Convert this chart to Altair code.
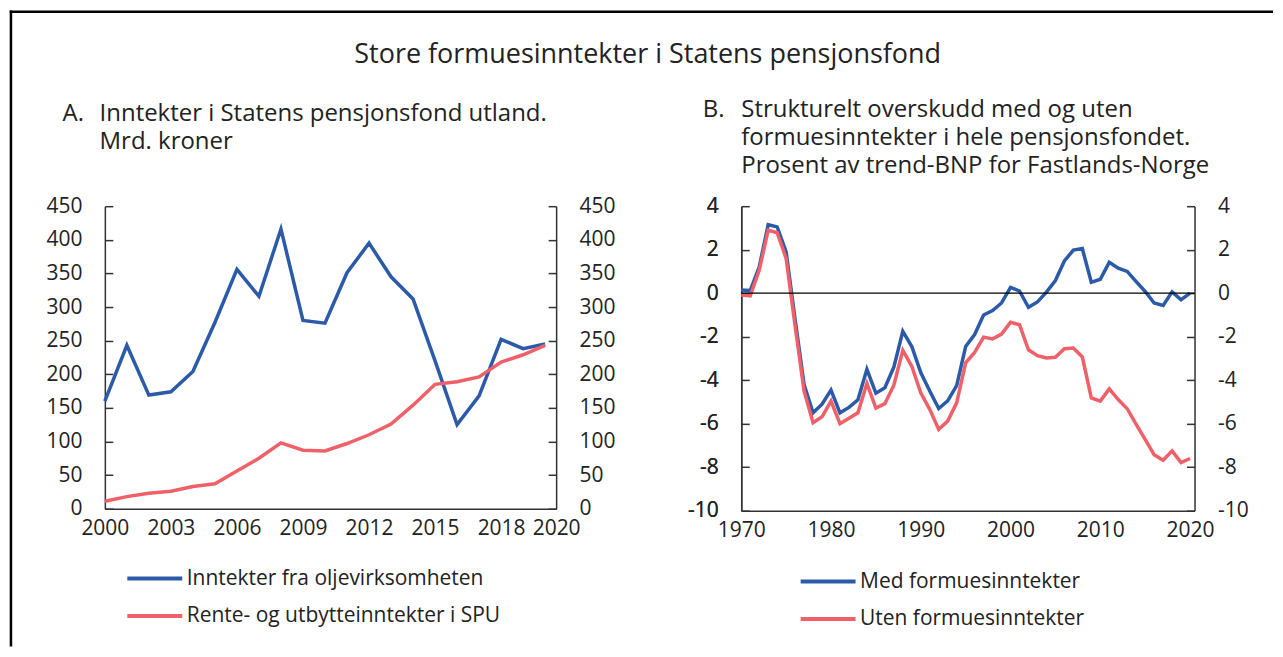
import altair as alt
import pandas as pd

# ---------------- data ----------------
YEARS_A = list(range(2000, 2021))
OIL = [160, 243, 169, 174, 204, 277, 356, 316, 416, 280, 276, 351, 395, 345, 312,
       220, 125, 168, 252, 238, 245]
SPU = [11, 18, 23, 26, 33, 37, 56, 75, 98, 87, 86, 97, 110, 126, 154,
       185, 189, 196, 218, 229, 243]
SERIES_A = ["Inntekter fra oljevirksomheten", "Rente- og utbytteinntekter i SPU"]

YEARS_B = list(range(1970, 2021))
MED = [0.15, 0.12, 1.2, 3.15, 3.05, 1.9, -1.2, -4.2, -5.5, -5.1,
       -4.45, -5.5, -5.25, -4.9, -3.5, -4.6, -4.35, -3.4, -1.75, -2.45,
       -3.65, -4.5, -5.3, -4.95, -4.25, -2.45, -1.9, -1.0, -0.8, -0.45,
       0.27, 0.1, -0.65, -0.4, 0.05, 0.58, 1.48, 1.98, 2.05, 0.5,
       0.64, 1.42, 1.15, 1.0, 0.53, 0.08, -0.45, -0.56, 0.06, -0.3,
       0.0]
UTEN = [-0.08, -0.12, 1.05, 2.9, 2.78, 1.6, -1.5, -4.5, -5.95, -5.68,
        -4.96, -6.0, -5.75, -5.5, -4.15, -5.28, -5.08, -4.23, -2.63, -3.36,
        -4.58, -5.34, -6.26, -5.88, -5.04, -3.2, -2.72, -2.02, -2.1, -1.88,
        -1.34, -1.45, -2.6, -2.87, -2.98, -2.95, -2.55, -2.52, -2.93, -4.81,
        -4.96, -4.4, -4.89, -5.31, -6.03, -6.72, -7.43, -7.68, -7.25, -7.79,
        -7.6]
SERIES_B = ["Med formuesinntekter", "Uten formuesinntekter"]

XA_TICKS = [2000, 2003, 2006, 2009, 2012, 2015, 2018, 2020.5]
XB_TICKS = [1970, 1980, 1990, 2000, 2010, 2020]
YA_TICKS = [0, 50, 100, 150, 200, 250, 300, 350, 400, 450]
YB_TICKS = [-10, -8, -6, -4, -2, 0, 2, 4]
ZERO = [0]

TITLE = "Store formuesinntekter i Statens pensjonsfond"
SUB_A_LETTER = "A."
SUB_A = ["Inntekter i Statens pensjonsfond utland.", "Mrd. kroner"]
SUB_B_LETTER = "B."
SUB_B = ["Strukturelt overskudd med og uten",
         "formuesinntekter i hele pensjonsfondet.",
         "Prosent av trend-BNP for Fastlands-Norge"]

# ---------------- style ----------------
FONT = "Open Sans"
TXT = "#222222"
AX = "#333333"
BLUE = "#2b5ba8"
RED = "#ef6068"
W_A, W_B = 452, 454
H_A, H_B = 303, 305
FS = 21
FS_SUB = 24
FS_TITLE = 27
LH_SUB = 28

dfA = pd.DataFrame({
    "year": YEARS_A + YEARS_A,
    "value": OIL + SPU,
    "series": [SERIES_A[0]] * len(YEARS_A) + [SERIES_A[1]] * len(YEARS_A),
})
dfB = pd.DataFrame({
    "year": YEARS_B + YEARS_B,
    "value": MED + UTEN,
    "series": [SERIES_B[0]] * len(YEARS_B) + [SERIES_B[1]] * len(YEARS_B),
})


def y_axes(values, width):
    common = dict(values=values, title=None, grid=False, labelFont=FONT, labelFontSize=FS,
                  labelColor=TXT, labelFlush=False, labelOverlap=False, domainColor=AX,
                  domainWidth=1.5, tickColor=AX, tickWidth=1.5,
                  labelExpr="'' + datum.value")
    left = alt.Axis(orient="left", ticks=False, labelPadding=23, **common)
    right = alt.Axis(orient="right", ticks=False, labelPadding=23, **common)
    tl = alt.Axis(orient="right", offset=-width, labels=False, domain=False, ticks=True, tickSize=8, **common)
    tr = alt.Axis(orient="left", offset=-width, labels=False, domain=False, ticks=True, tickSize=8, **common)
    return left, right, tl, tr


def text_layer(txt, x, y, size, align="left"):
    return alt.Chart(pd.DataFrame({"t": [txt]})).mark_text(
        font=FONT, fontSize=size, color=TXT, align=align, baseline="alphabetic",
        lineBreak="\n", lineHeight=LH_SUB
    ).encode(x=alt.value(x), y=alt.value(y), text="t:N")


def legend(series, lx, ly):
    return alt.Legend(orient="none", legendX=lx, legendY=ly, title=None,
                      symbolType="M-2.75,0H2.75", symbolSize=400, symbolStrokeWidth=4,
                      labelFont=FONT, labelFontSize=FS, labelColor=TXT, labelLimit=800,
                      labelOffset=20, rowPadding=15.5, padding=0)


# ---------------- panel A ----------------
xA = alt.X("year:Q", scale=alt.Scale(domain=[2000, 2020.5], nice=False, zero=False),
           axis=alt.Axis(values=XA_TICKS, format="d",
                         labelExpr="datum.value > 2020 ? '2020' : datum.label",
                         title=None, grid=False, ticks=False, labelFont=FONT, labelFontSize=FS,
                         labelColor=TXT, labelFlush=False, labelOverlap=False, labelPadding=9,
                         domainColor=AX, domainWidth=1.5))
ysA = alt.Scale(domain=[0, 450], nice=False, zero=False)
aL, aR, aTL, aTR = y_axes(YA_TICKS, W_A)

linesA = alt.Chart(dfA).mark_line(strokeWidth=3.5).encode(
    x=xA, y=alt.Y("value:Q", scale=ysA, axis=aL),
    color=alt.Color("series:N", scale=alt.Scale(domain=SERIES_A, range=[BLUE, RED]),
                    legend=legend(SERIES_A, 38, 361)),
)
ghostA = [alt.Chart(dfA).mark_line(opacity=0).encode(x=xA, y=alt.Y("value:Q", scale=ysA, axis=ax))
          for ax in (aR, aTL, aTR)]

frame_top = alt.Chart(pd.DataFrame({"k": [0]})).mark_rule(color="black", strokeWidth=2.5).encode(
    x=alt.value(-95.3), x2=alt.value(1170), y=alt.value(-194.75))
frame_left = alt.Chart(pd.DataFrame({"k": [0]})).mark_rule(color="black", strokeWidth=2.5).encode(
    x=alt.value(-94.05), y=alt.value(-196), y2=alt.value(441))

panelA = alt.layer(
    frame_top, frame_left,
    linesA, *ghostA,
    text_layer(TITLE, 543.7, -143, FS_TITLE, "center"),
    text_layer(SUB_A_LETTER, -42.3, -85, FS_SUB),
    text_layer("\n".join(SUB_A), -5.3, -85, FS_SUB),
).resolve_axis(y="independent").properties(width=W_A, height=H_A)

# ---------------- panel B ----------------
xB = alt.X("year:Q", scale=alt.Scale(domain=[1970, 2020.5], nice=False, zero=False),
           axis=alt.Axis(values=XB_TICKS, format="d", title=None, grid=False, ticks=False,
                         labelFont=FONT, labelFontSize=FS, labelColor=TXT, labelFlush=False,
                         labelOverlap=False, labelPadding=9, domainColor=AX, domainWidth=1.5))
ysB = alt.Scale(domain=[-10, 4], nice=False, zero=False)
bL, bR, bTL, bTR = y_axes(YB_TICKS, W_B)

zeroB = alt.Chart(pd.DataFrame({"z": ZERO})).mark_rule(color="black", strokeWidth=1.2).encode(
    y=alt.Y("z:Q", scale=ysB, axis=bL))
linesB = alt.Chart(dfB).mark_line(strokeWidth=3.5).encode(
    x=xB, y=alt.Y("value:Q", scale=ysB, axis=bL),
    color=alt.Color("series:N", scale=alt.Scale(domain=SERIES_B, range=[BLUE, RED]),
                    legend=legend(SERIES_B, 75, 364)),
)
ghostB = [alt.Chart(dfB).mark_line(opacity=0).encode(x=xB, y=alt.Y("value:Q", scale=ysB, axis=ax))
          for ax in (bR, bTL, bTR)]

panelB = alt.layer(
    linesB, zeroB, *ghostB,
    text_layer(SUB_B_LETTER, -38.5, -89, FS_SUB),
    text_layer("\n".join(SUB_B), 0, -89, FS_SUB),
).resolve_axis(y="independent").properties(width=W_B, height=H_B)

chart = alt.hconcat(panelA, panelB, spacing=185.4, bounds="flush").resolve_scale(
    color="independent").properties(padding=0).configure_view(stroke=None)

chart.save("out.html", embed_options={"renderer": "svg", "actions": False})
